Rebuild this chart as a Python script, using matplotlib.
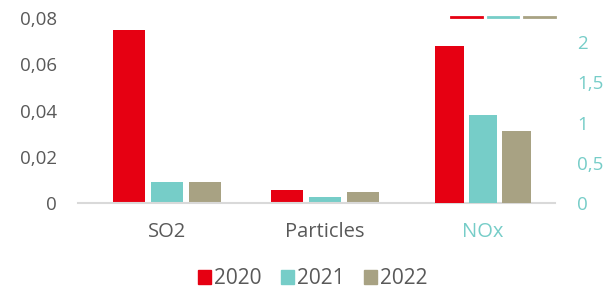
import numpy as np
import matplotlib
matplotlib.use("Agg")
import matplotlib.pyplot as plt
from matplotlib.lines import Line2D
from matplotlib.patches import Patch

plt.rcParams['font.family'] = ['Open Sans', 'DejaVu Sans']

# data
categories = ['SO2', 'Particles', 'NOx']
years = ['2020', '2021', '2022']
# SO2 and Particles on the left axis
left_vals = {
    '2020': [0.075, 0.0056],
    '2021': [0.009, 0.0026],
    '2022': [0.009, 0.0047],
}
# NOx on the right axis
nox_vals = [1.95, 1.10, 0.90]

colors = ['#E60012', '#76CDC8', '#A8A283']
grey = '#595959'
teal = '#76CDC8'

fig = plt.figure(figsize=(6.05, 2.92), dpi=100)
ax = fig.add_axes([78 / 605, 89 / 292, (555 - 78) / 605, 185 / 292])
ax2 = ax.twinx()

x = np.arange(len(categories))
w, step = 0.2, 0.24
for i, yr in enumerate(years):
    ax.bar(x[:2] + (i - 1) * step, left_vals[yr], width=w, color=colors[i])
w2, step2 = 0.18, 0.213
for i, yr in enumerate(years):
    ax2.bar(x[2] + (i - 1) * step2, nox_vals[i], width=w2, color=colors[i])

ax.set_xlim(-0.563, 2.456)
ax.set_ylim(0, 0.08)
ax2.set_ylim(0, 2.3)
ax.set_yticks([0, 0.02, 0.04, 0.06, 0.08])
ax.set_yticklabels(['0', '0,02', '0,04', '0,06', '0,08'])
ax2.set_yticks([0, 0.5, 1, 1.5, 2])
ax2.set_yticklabels(['0', '0,5', '1', '1,5', '2'])

for a in (ax, ax2):
    for s in a.spines.values():
        s.set_visible(False)
ax.axhline(0, color='#D9D9D9', lw=1.5, zorder=5, clip_on=False)

ax.tick_params(axis='y', length=0, pad=15, labelsize=13.5, labelcolor=grey)
ax2.tick_params(axis='y', length=0, pad=16, labelsize=13.5, labelcolor=teal)
ax.set_xticks(x)
ax.set_xticklabels(categories, fontsize=14.5, color=grey)
ax.tick_params(axis='x', length=0, pad=14)
ax.get_xticklabels()[2].set_color(teal)

handles = [Patch(color=c) for c in colors]
fig.legend(handles, years, loc='center', bbox_to_anchor=(0.517, 13 / 292),
           ncol=3, frameon=False, fontsize=15, labelcolor=grey,
           handlelength=0.65, handleheight=0.65, handletextpad=0.15, columnspacing=0.9)

line_handles = [Line2D([0], [0], color=c, lw=2) for c in colors]
fig.legend(line_handles, ['', '', ''], loc='center', bbox_to_anchor=(503 / 605, 1 - 18 / 292),
           ncol=3, frameon=False, handlelength=1.7, handletextpad=0, columnspacing=0.33,
           fontsize=13)

fig.savefig('out.png', dpi=100)
